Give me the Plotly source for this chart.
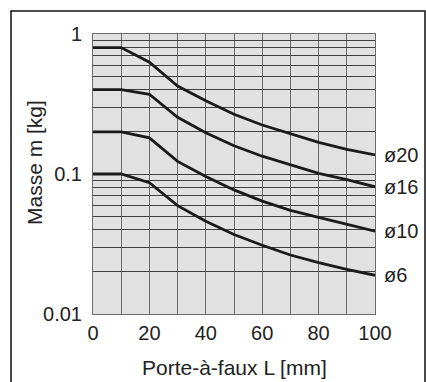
import numpy as np
import plotly.graph_objects as go

# Data
L_mm = [0, 10, 20, 30, 40, 50, 60, 70, 80, 90, 100]
series_names = ["ø20", "ø16", "ø10", "ø6"]
m_d20 = [0.80, 0.80, 0.628, 0.425, 0.334, 0.267, 0.224, 0.193, 0.168, 0.150, 0.137]
m_d16 = [0.40, 0.40, 0.371, 0.254, 0.197, 0.159, 0.134, 0.116, 0.101, 0.091, 0.081]
m_d10 = [0.20, 0.20, 0.181, 0.123, 0.096, 0.077, 0.064, 0.055, 0.049, 0.0437, 0.039]
m_d6 = [0.10, 0.10, 0.0867, 0.0594, 0.046, 0.037, 0.031, 0.0264, 0.0233, 0.0208, 0.0189]
series_values = [m_d20, m_d16, m_d10, m_d6]

x_grid_vals = list(range(0, 101, 10))
x_tick_text = [str(v) if v % 20 == 0 else "" for v in x_grid_vals]
y_grid_vals = [k * 10.0 ** e for e in (-2, -1) for k in range(1, 10)] + [1.0]
y_major = {0.01: "0.01", 0.1: "0.1", 1.0: "1"}
y_tick_text = [y_major.get(round(v, 6), "") for v in y_grid_vals]

FONT = "Liberation Sans, Arial, Helvetica, sans-serif"
TXT = "#222222"

fig = go.Figure()
for name, vals in zip(series_names, series_values):
    fig.add_trace(go.Scatter(x=L_mm, y=vals, mode="lines", name=name,
                             line=dict(color="#1a1a1a", width=2.8),
                             showlegend=False, hoverinfo="skip"))
    fig.add_annotation(x=L_mm[-1], y=np.log10(vals[-1]), text=name,
                       xref="x", yref="y", xanchor="left", yanchor="middle",
                       xshift=7, showarrow=False,
                       font=dict(family=FONT, size=20, color=TXT))

fig.update_xaxes(type="linear", range=[0, 100], tickvals=x_grid_vals,
                 ticktext=x_tick_text, showgrid=True, gridcolor="#6a6a6a",
                 gridwidth=1, zeroline=False, showline=True, mirror=True,
                 linecolor="#6a6a6a", linewidth=1, ticks="",
                 ticklabelstandoff=1,
                 tickfont=dict(family=FONT, size=20, color=TXT))
fig.update_yaxes(type="log", range=[-2, 0], tickvals=y_grid_vals,
                 ticktext=y_tick_text, showgrid=True, gridcolor="#404040",
                 gridwidth=1, zeroline=False, showline=True, mirror=True,
                 linecolor="#6a6a6a", linewidth=1, ticks="",
                 ticklabelstandoff=6,
                 tickfont=dict(family=FONT, size=20, color=TXT))

# Axis titles
fig.add_annotation(text="Porte-à-faux L [mm]", xref="paper", yref="paper",
                   x=0.5, y=-0.19, xanchor="center", yanchor="middle",
                   showarrow=False, font=dict(family=FONT, size=21, color=TXT))
fig.add_annotation(text="Masse m [kg]", xref="paper", yref="paper",
                   x=-0.205, y=0.54, xanchor="center", yanchor="middle",
                   textangle=-90, showarrow=False,
                   font=dict(family=FONT, size=21, color=TXT))

# Outer frame
fig.add_shape(type="rect", xref="paper", yref="paper",
              x0=-0.2908, x1=1.1773, y0=-0.3, y1=1.0821,
              line=dict(color="#111111", width=1.5), fillcolor="rgba(0,0,0,0)",
              layer="below")

fig.update_layout(width=426, height=382,
                  margin=dict(l=93, r=51, t=34, b=68),
                  plot_bgcolor="#e1e1e1", paper_bgcolor="white",
                  font=dict(family=FONT, color=TXT))

fig.write_html("out.html")
